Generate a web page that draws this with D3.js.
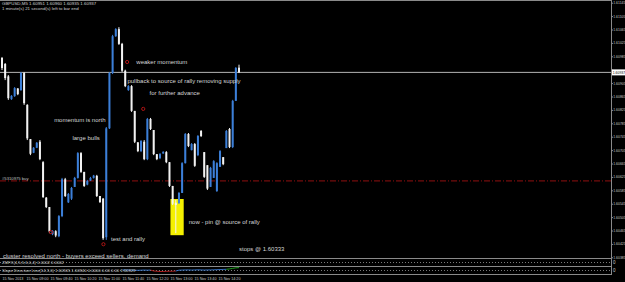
<!DOCTYPE html>
<html>
<head>
<meta charset="utf-8">
<script src="https://cdn.jsdelivr.net/npm/d3@7"></script>
<style>
body { margin: 0; background: #000; }
svg { display: block; }
</style>
</head>
<body>
<div id="chart"></div>
<script>
// header lines, top left
var symbolLine = "GBPUSD,M5  1.60951 1.60960 1.60935 1.60937";
var timerLine = "1 minute(s) 21 second(s) left to bar end";

// M5 candles
var open  = [1.60980,1.60962,1.60925,1.60857,1.60866,1.60889,1.60884,1.60935,1.60840,1.60738,
             1.60697,1.60712,1.60730,1.60669,1.60563,1.60535,1.60454,1.60463,1.60448,1.60508,
             1.60618,1.60549,1.60560,1.60595,1.60622,1.60696,1.60640,1.60602,1.60614,1.60622,
             1.60628,1.60568,1.60560,1.60445,1.60770,1.60935,1.61045,1.61066,1.61022,1.60942,
             1.60884,1.60896,1.60822,1.60728,1.60702,1.60730,1.60678,1.60798,1.60765,1.60693,
             1.60681,1.60695,1.60699,1.60669,1.60598,1.60548,1.60547,1.60577,1.60666,1.60753,
             1.60705,1.60723,1.60690,1.60762,1.60699,1.60660,1.60595,1.60622,1.60583,1.60655,
             1.60684,1.60711,1.60768,1.60714,1.60852,1.60951];
var high  = [1.60983,1.60965,1.60929,1.60869,1.60893,1.60890,1.60938,1.60938,1.60842,1.60738,
             1.60714,1.60729,1.60735,1.60672,1.60565,1.60535,1.60466,1.60466,1.60511,1.60622,
             1.60622,1.60577,1.60595,1.60625,1.60699,1.60699,1.60640,1.60616,1.60625,1.60631,
             1.60631,1.60568,1.60562,1.60774,1.60938,1.61049,1.61069,1.61072,1.61025,1.60945,
             1.60899,1.60899,1.60822,1.60729,1.60735,1.60735,1.60801,1.60801,1.60765,1.60693,
             1.60696,1.60702,1.60702,1.60669,1.60598,1.60556,1.60580,1.60669,1.60756,1.60756,
             1.60726,1.60726,1.60750,1.60765,1.60699,1.60660,1.60655,1.60675,1.60669,1.60705,
             1.60684,1.60765,1.60771,1.60855,1.60953,1.60960];
var low   = [1.60944,1.60914,1.60855,1.60855,1.60864,1.60869,1.60882,1.60840,1.60735,1.60690,
             1.60696,1.60711,1.60675,1.60562,1.60532,1.60457,1.60451,1.60445,1.60445,1.60505,
             1.60565,1.60547,1.60556,1.60595,1.60620,1.60637,1.60595,1.60600,1.60613,1.60620,
             1.60565,1.60547,1.60437,1.60437,1.60768,1.60932,1.61043,1.61019,1.60938,1.60893,
             1.60882,1.60819,1.60726,1.60699,1.60699,1.60675,1.60675,1.60765,1.60690,1.60675,
             1.60678,1.60694,1.60666,1.60595,1.60541,1.60457,1.60544,1.60577,1.60665,1.60714,
             1.60704,1.60655,1.60687,1.60744,1.60622,1.60586,1.60595,1.60622,1.60580,1.60655,
             1.60660,1.60711,1.60711,1.60711,1.60852,1.60935];
var close = [1.60950,1.60920,1.60860,1.60867,1.60890,1.60872,1.60935,1.60845,1.60740,1.60694,
             1.60712,1.60727,1.60678,1.60565,1.60535,1.60462,1.60464,1.60450,1.60508,1.60618,
             1.60568,1.60574,1.60592,1.60622,1.60696,1.60640,1.60598,1.60613,1.60622,1.60629,
             1.60568,1.60550,1.60442,1.60770,1.60935,1.61045,1.61066,1.61022,1.60942,1.60896,
             1.60896,1.60822,1.60730,1.60702,1.60732,1.60678,1.60798,1.60768,1.60693,1.60678,
             1.60693,1.60699,1.60669,1.60598,1.60545,1.60541,1.60577,1.60666,1.60753,1.60717,
             1.60723,1.60658,1.60747,1.60747,1.60625,1.60590,1.60652,1.60672,1.60666,1.60702,
             1.60663,1.60762,1.60714,1.60852,1.60950,1.60937];

// lower indicator window (only the visible part)
var osc = [null,null,null,null,null,null,null,null,null,null,
           null,null,null,null,null,null,null,null,null,null,
           null,null,null,null,null,null,null,null,null,null,
           null,null,null,null,null,null,null,null,
           0.1,0.1,0.05,0,0,-0.05,0,0.05,0,0.05,
           -0.3,-0.4,-0.5,-0.5,-0.45,-0.4,-0.4,-0.3,
           0.0,0.05,0.1,0.1,0.05,0.1,0.15,0.1,0.05,0.1,0.1,0.15,0.2,0.25,0.3,0.35,
           0.5,0.7,0.9,1.0];

var priceTicks = [1.61145,1.61105,1.61065,1.61025,1.60985,1.60945,1.60905,1.60865,1.60825,1.60785,
                  1.60745,1.60705,1.60665,1.60625,1.60585,1.60545,1.60505,1.60465,1.60425,1.60385];
var timeTicks = ["2013-11-15 08:20","2013-11-15 09:00","2013-11-15 09:40","2013-11-15 10:20","2013-11-15 11:00",
                 "2013-11-15 11:40","2013-11-15 12:20","2013-11-15 13:00","2013-11-15 13:40","2013-11-15 14:20"];
var firstTime = "2013-11-15 08:20", lastTime = "2013-11-15 14:55";

var bidPrice = 1.60937;
var orderLabel = "#5310975 buy";
var orderPrice = 1.60613;

// notes written on the chart: [bar, price, text]
var notes = [
	[42.5, 1.60967, "weaker momentum"],
	[39.7, 1.60911, "pullback to source of rally removing supply"],
	[46.7, 1.60875, "for further advance"],
	[16.5, 1.60794, "momentum is north"],
	[22.3, 1.60740, "large bulls"],
	[34.5, 1.60440, "test and rally"],
	[59.1, 1.60490, "now - pin @ source of rally"],
	[75.0, 1.60410, "stops @ 1.60333"],
	[0.3, 1.60390, "cluster resolved north - buyers exceed sellers, demand"]
];
// red arrows: [bar, price]
var marks = [[39.6, 1.60968], [44.7, 1.60828], [15.5, 1.60460], [32.1, 1.60424]];
// yellow box around the pin bar: [bar from, bar to, price top, price bottom]
var pinBox = [53.3, 57.5, 1.60559, 1.60451];

var W = 625, H = 282;
var axisX = 611;
var axisFont = 3.4;

var svg = d3.select('#chart').append('svg')
	.attr('width', W).attr('height', H)
	.style('background', '#000')
	.style('font-family', '"Liberation Sans", Arial, sans-serif');

var x = d3.scaleLinear().domain([0, open.length - 1]).range([2, 239]);
var y = d3.scaleLinear().domain([priceTicks[0], priceTicks[priceTicks.length - 1]]).range([2.7, 257.3]);
var parseT = d3.timeParse("%Y-%m-%d %H:%M");
var t = d3.scaleTime().domain([parseT(firstTime), parseT(lastTime)]).range([2, 239]);

// frames
var frame = svg.append('g').attr('stroke', '#8a8a8a').attr('stroke-width', 1);
frame.append('line').attr('x1', 0).attr('x2', axisX).attr('y1', 0.5).attr('y2', 0.5);
[258.5, 266.5, 274.5].forEach(function (yy) {
	frame.append('line').attr('x1', 0).attr('x2', axisX).attr('y1', yy).attr('y2', yy);
});
frame.append('line').attr('x1', axisX + 0.5).attr('x2', axisX + 0.5).attr('y1', 0).attr('y2', 275);
[262.5, 270.5].forEach(function (yy) {
	svg.append('line').attr('x1', 0).attr('x2', axisX).attr('y1', yy).attr('y2', yy)
		.attr('stroke', '#9a9a9a').attr('stroke-width', 0.8).attr('stroke-dasharray', '1,2');
});

// price axis (the label under the bid box is hidden, as in the terminal)
var yAxis = d3.axisRight(y).tickValues(priceTicks).tickSize(1.5)
	.tickFormat(function (d) { return Math.abs(y(d) - y(bidPrice)) < 4 ? '' : d3.format('.5f')(d); });
var ya = svg.append('g').attr('transform', 'translate(' + (axisX + 0.5) + ',0)').call(yAxis);
ya.select('.domain').remove();
ya.selectAll('line').attr('stroke', '#8a8a8a');
ya.selectAll('text').attr('fill', '#c8c8c8').attr('font-size', axisFont).attr('x', 1.8)
	.attr('font-family', '"Liberation Sans", Arial, sans-serif');

// time axis
var tAxis = d3.axisBottom(t).tickValues(timeTicks.map(parseT)).tickSize(0)
	.tickFormat(function (d, i) { return i == 0 ? d3.timeFormat("%d %b %Y")(d) : d3.timeFormat("%d %b %H:%M")(d); });
var ta = svg.append('g').attr('transform', 'translate(0,275)').call(tAxis);
ta.select('.domain').remove();
ta.selectAll('text').attr('fill', '#c8c8c8').attr('font-size', 3.7).attr('text-anchor', 'start').attr('dy', 0).attr('y', 5.4)
	.attr('font-family', '"Liberation Sans", Arial, sans-serif');

// order line
svg.append('line').attr('x1', 0).attr('x2', axisX).attr('y1', y(orderPrice)).attr('y2', y(orderPrice))
	.attr('stroke', '#a01212').attr('stroke-width', 0.9).attr('stroke-dasharray', '6,2,1,2');
svg.append('text').attr('x', 2).attr('y', y(orderPrice) - 0.5).text(orderLabel)
	.attr('fill', '#c0c0c0').attr('font-size', 4.2);

// bid line
svg.append('line').attr('x1', 0).attr('x2', axisX).attr('y1', y(bidPrice)).attr('y2', y(bidPrice))
	.attr('stroke', '#b4b4b4').attr('stroke-width', 1);
svg.append('rect').attr('x', axisX + 1).attr('y', y(bidPrice) - 3).attr('width', 14).attr('height', 6).attr('fill', '#fff');
svg.append('text').attr('x', axisX + 1.8).attr('y', y(bidPrice) + 1.3).text(d3.format('.5f')(bidPrice))
	.attr('fill', '#000').attr('font-size', axisFont);

// yellow box
svg.append('rect')
	.attr('x', x(pinBox[0])).attr('width', x(pinBox[1]) - x(pinBox[0]))
	.attr('y', y(pinBox[2])).attr('height', y(pinBox[3]) - y(pinBox[2]))
	.attr('fill', '#f4f000');

// candles
var bars = svg.append('g').selectAll('g')
	.data(open.map(function (o, i) { return { o: o, h: high[i], l: low[i], c: close[i], i: i }; }))
	.enter().append('g');
function barColor(d) { return d.c > d.o ? '#3c7fd8' : '#f2f2f2'; }
bars.append('line')
	.attr('x1', function (d) { return x(d.i); }).attr('x2', function (d) { return x(d.i); })
	.attr('y1', function (d) { return y(d.h); }).attr('y2', function (d) { return y(d.l); })
	.attr('stroke', barColor).attr('stroke-width', 1);
bars.append('rect')
	.attr('x', function (d) { return x(d.i) - 1; }).attr('width', 2)
	.attr('y', function (d) { return y(Math.max(d.o, d.c)); })
	.attr('height', function (d) { return Math.max(1, y(Math.min(d.o, d.c)) - y(Math.max(d.o, d.c))); })
	.attr('fill', barColor);

// red arrows
svg.append('g').selectAll('circle').data(marks).enter().append('circle')
	.attr('cx', function (d) { return x(d[0]); }).attr('cy', function (d) { return y(d[1]); })
	.attr('r', 1.6).attr('fill', 'none').attr('stroke', '#b01515').attr('stroke-width', 1);

// notes
svg.append('g').selectAll('text').data(notes).enter().append('text')
	.attr('x', function (d) { return x(d[0]); }).attr('y', function (d) { return y(d[1]) + 2; })
	.text(function (d) { return d[2]; })
	.attr('fill', '#d6d6d6').attr('font-size', 6);

// header
svg.append('text').attr('x', 2).attr('y', 5).text(symbolLine).attr('fill', '#d0d0d0').attr('font-size', 4.4);
svg.append('text').attr('x', 2).attr('y', 9.5).text(timerLine).attr('fill', '#d0d0d0').attr('font-size', 4.4);

// indicator windows
var yo = d3.scaleLinear().domain([-1, 1]).range([272.8, 267.6]);
var segs = [];
for (var j = 1; j < osc.length; j++) {
	if (osc[j] != null && osc[j - 1] != null) segs.push([j - 1, j]);
}
svg.append('g').selectAll('line').data(segs).enter().append('line')
	.attr('x1', function (d) { return x(d[0]); }).attr('x2', function (d) { return x(d[1]); })
	.attr('y1', function (d) { return yo(osc[d[0]]); }).attr('y2', function (d) { return yo(osc[d[1]]); })
	.attr('stroke', function (d) { var v = osc[d[1]]; return v < -0.2 ? '#c02020' : (v > 0.45 ? '#20b020' : '#3c7fd8'); })
	.attr('stroke-width', 0.9);
svg.append('text').attr('x', 2).attr('y', 263.5).text('ZMFX(4,5,5,6,0,4) 0.0002 0.0002')
	.attr('fill', '#d0d0d0').attr('font-size', 4.2);
svg.append('text').attr('x', 2).attr('y', 271.5).text('Slope Direction Line(14,3,0) 1.60945 1.60940 0.0000 0.00 0.00 1.60929')
	.attr('fill', '#d0d0d0').attr('font-size', 4.2);
svg.append('text').attr('x', axisX + 2).attr('y', 264).text('0').attr('fill', '#c8c8c8').attr('font-size', 4.5);
svg.append('text').attr('x', axisX + 2).attr('y', 272).text('0').attr('fill', '#c8c8c8').attr('font-size', 4.5);
</script>
</body>
</html>
